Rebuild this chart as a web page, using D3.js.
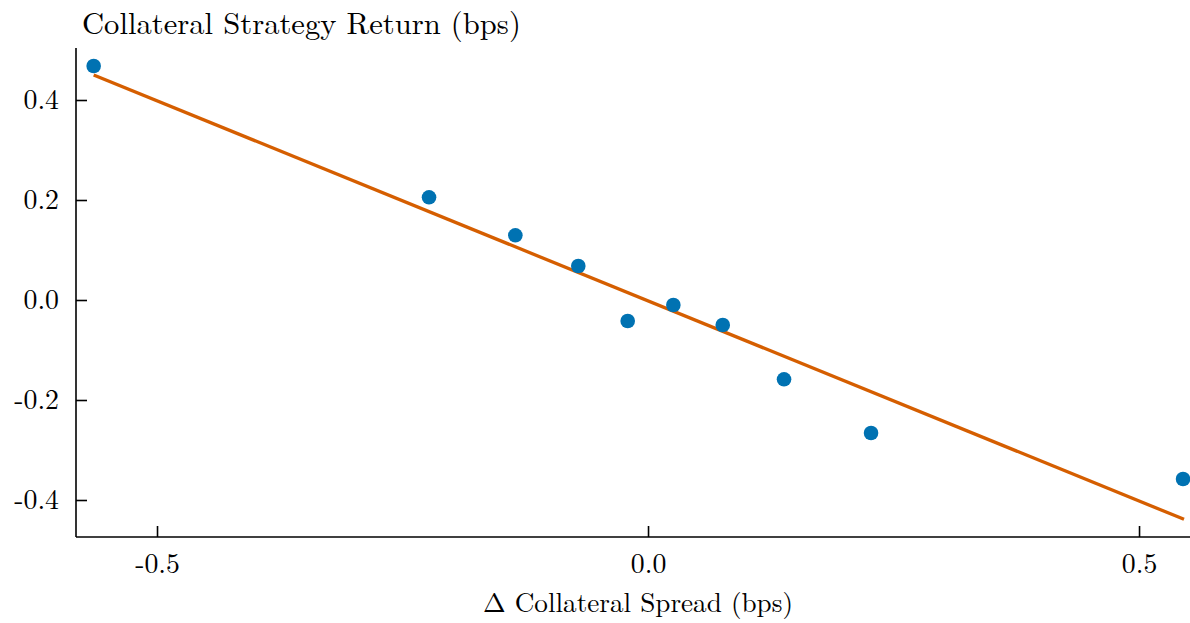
<!DOCTYPE html>
<html>
<head>
<meta charset="utf-8">
<script src="https://cdn.jsdelivr.net/npm/d3@7"></script>
</head>
<body style="margin:0;padding:0;background:#fff">
<svg id="chart" width="1190" height="623"></svg>
<script>
// Data
const spreadChange = [-0.5645, -0.2230, -0.1351, -0.0710, -0.0207, 0.0258, 0.0761, 0.1385, 0.2271, 0.5448];
const strategyReturn = [0.468, 0.2054, 0.1294, 0.068, -0.042, -0.010, -0.050, -0.1586, -0.266, -0.358];
const fitX = [-0.5645, 0.5458];
const fitY = [0.450, -0.4386];
const xTicks = [-0.5, 0.0, 0.5];
const yTicks = [-0.4, -0.2, 0.0, 0.2, 0.4];
const titleText = "Collateral Strategy Return (bps)";
const xLabelText = "\u0394 Collateral Spread (bps)";

(function () {
const FONT = '"Latin Modern Roman", "Liberation Serif", serif';
const mLeft = 76, mRight = 1190, mTop = 48, mBottom = 537;
const fmt = d => (Math.abs(d) < 1e-9 ? 0 : d).toFixed(1);

const svg = d3.select("#chart");

const x = d3.scaleLinear().domain([-0.5825, 0.5519]).range([mLeft, mRight]);
const y = d3.scaleLinear().domain([-0.474, 0.504]).range([mBottom, mTop]);

// size a text element so that its width matches a target width
function fitSize(sel, target, base) {
  sel.style("font-size", base + "px");
  const w = sel.node().getComputedTextLength();
  const s = w > 0 ? base * target / w : base;
  sel.style("font-size", s.toFixed(2) + "px");
  return s;
}

// measure tick font size
const probe = svg.append("text").style("font-family", FONT).text("0.4");
const tickSize = fitSize(probe, 35.5, 25);
probe.remove();

// Y axis
const yAxis = d3.axisLeft(y).tickValues(yTicks).tickSize(-11).tickFormat(fmt);
const gy = svg.append("g").attr("transform", `translate(${mLeft},0)`).call(yAxis);
gy.attr("font-family", null).attr("font-size", null);
gy.select(".domain").attr("stroke", "#000").attr("stroke-width", 1.6).attr("d", `M0,${mBottom}V${mTop}`);
gy.selectAll(".tick line").attr("stroke", "#000").attr("stroke-width", 1.6);
gy.selectAll(".tick text")
  .style("font-family", FONT).style("font-size", tickSize + "px")
  .attr("fill", "#000").attr("text-anchor", "end")
  .attr("x", -17).attr("dy", "0.32em");

// X axis
const xAxis = d3.axisBottom(x).tickValues(xTicks).tickSize(-11).tickFormat(fmt);
const gx = svg.append("g").attr("transform", `translate(0,${mBottom})`).call(xAxis);
gx.attr("font-family", null).attr("font-size", null);
gx.select(".domain").attr("stroke", "#000").attr("stroke-width", 1.6).attr("d", `M${mLeft},0H${mRight}`);
gx.selectAll(".tick line").attr("stroke", "#000").attr("stroke-width", 1.6);
gx.selectAll(".tick text")
  .style("font-family", FONT).style("font-size", tickSize + "px")
  .attr("fill", "#000").attr("y", 36).attr("dy", 0);

// Fit line
const lineData = fitX.map((v, i) => [v, fitY[i]]);
svg.append("path")
  .datum(lineData)
  .attr("fill", "none")
  .attr("stroke", "#D55E00")
  .attr("stroke-width", 3.3)
  .attr("d", d3.line().x(d => x(d[0])).y(d => y(d[1])));

// Points
svg.append("g").selectAll("circle")
  .data(spreadChange.map((v, i) => [v, strategyReturn[i]]))
  .join("circle")
  .attr("cx", d => x(d[0]))
  .attr("cy", d => y(d[1]))
  .attr("r", 7.3)
  .attr("fill", "#0072B2");

// Title
const title = svg.append("text")
  .attr("x", 82).attr("y", 34)
  .style("font-family", FONT).attr("fill", "#000")
  .text(titleText);
fitSize(title, 439, 29);

// X label
const xl = svg.append("text")
  .attr("x", 638).attr("y", 612)
  .attr("text-anchor", "middle")
  .style("font-family", FONT).attr("fill", "#000")
  .text(xLabelText);
fitSize(xl, 310, 26);
})();
</script>
</body>
</html>
